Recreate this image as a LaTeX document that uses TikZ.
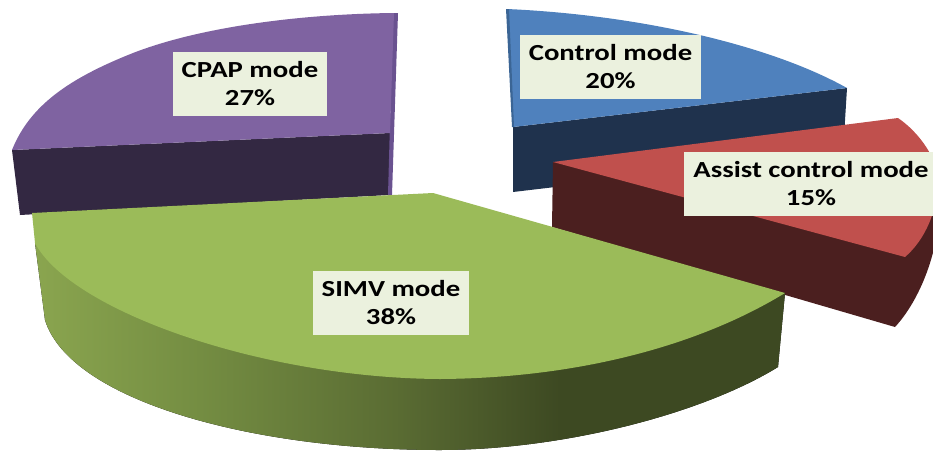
\documentclass[tikz,border=0pt]{standalone}
\usepackage{fontspec}
\setmainfont{Carlito}
\usepackage{graphicx}
\definecolor{pTop}{HTML}{7F63A1}
\definecolor{pSide}{HTML}{332842}
\definecolor{pStrip}{HTML}{6A5290}
\definecolor{bTop}{HTML}{4F81BD}
\definecolor{bSide}{HTML}{1F324D}
\definecolor{bStrip}{HTML}{3B6595}
\definecolor{rTop}{HTML}{C0504D}
\definecolor{rSide}{HTML}{4B1F1F}
\definecolor{gTop}{HTML}{9BBB59}
\definecolor{gA}{HTML}{8AA54F}
\definecolor{gB}{HTML}{748D42}
\definecolor{gC}{HTML}{5A6C33}
\definecolor{gD}{HTML}{3D4922}
\definecolor{lblfill}{HTML}{EBF1DE}
\pgfdeclarehorizontalshading{greenside}{100bp}{color(0bp)=(gA); color(25bp)=(gA); color(36bp)=(gB); color(49bp)=(gC); color(60bp)=(gD); color(100bp)=(gD)}
\begin{document}
\begin{tikzpicture}[x=1pt,y=-1pt,
  lbl/.style={fill=lblfill, inner sep=0pt, minimum height=64pt, align=center,
    font=\bfseries\fontsize{23}{28}\selectfont},
  wide/.code={}]
\useasboundingbox (0,0) rectangle (933,450);
\clip (0,0) rectangle (933,450);
% CPAP slice (purple)
\fill[pSide] (12,150) -- (390,133) -- (390,195) -- (20,215) -- cycle;
\fill[pStrip] (393,13) -- (398,13) -- (392,195) -- (388,195) -- cycle;
\fill[pTop] (12,150) .. controls (30,105) and (70,78) .. (133,53)
  .. controls (200,27) and (300,14) .. (394,13) -- (390,133) -- cycle;
% Control mode slice (blue)
\fill[bSide] (513,127) -- (847,88) -- (843,153) -- (513,192) -- cycle;
\fill[bTop] (507,9) .. controls (640,15) and (770,45) .. (847,88) -- (513,127) -- cycle;
\fill[bStrip] (506,9) -- (509,9) -- (514,127) -- (512,127) -- cycle;
% Assist control slice (red)
\fill[rSide] (553,162) -- (938,172) -- (940,200) .. controls (940,250) and (920,300) .. (895,327)
  -- (552,227) -- cycle;
\fill[rTop] (553,162) -- (898,118) .. controls (920,133) and (938,160) .. (938,180)
  .. controls (938,210) and (925,240) .. (905,257) -- cycle;
% SIMV slice (green)
\fill[shading=greenside] (785,293) -- (778,367) .. controls (700,415) and (560,450) .. (440,450)
  .. controls (250,450) and (70,400) .. (45,320) -- (35,243) -- cycle;
\fill[gTop] (32,213) -- (433,193) -- (785,293) .. controls (700,345) and (580,378) .. (440,379)
  .. controls (260,378) and (70,310) .. (35,243) -- cycle;
% labels
\node[lbl, minimum width=154pt] (cpap) at (250,84)
  {\scalebox{1.25}[1]{CPAP mode}\\\scalebox{1.25}[1]{27\%}};
\node[lbl, minimum width=181pt] (ctrl) at (610.5,67)
  {\scalebox{1.25}[1]{Control mode}\\\scalebox{1.25}[1]{20\%}};
\node[lbl, minimum width=254pt] (assist) at (811,184)
  {\scalebox{1.25}[1]{Assist control mode}\\\scalebox{1.25}[1]{15\%}};
\node[lbl, minimum width=156pt] (simv) at (391,303)
  {\scalebox{1.25}[1]{SIMV mode}\\\scalebox{1.25}[1]{38\%}};
\end{tikzpicture}
\end{document}
